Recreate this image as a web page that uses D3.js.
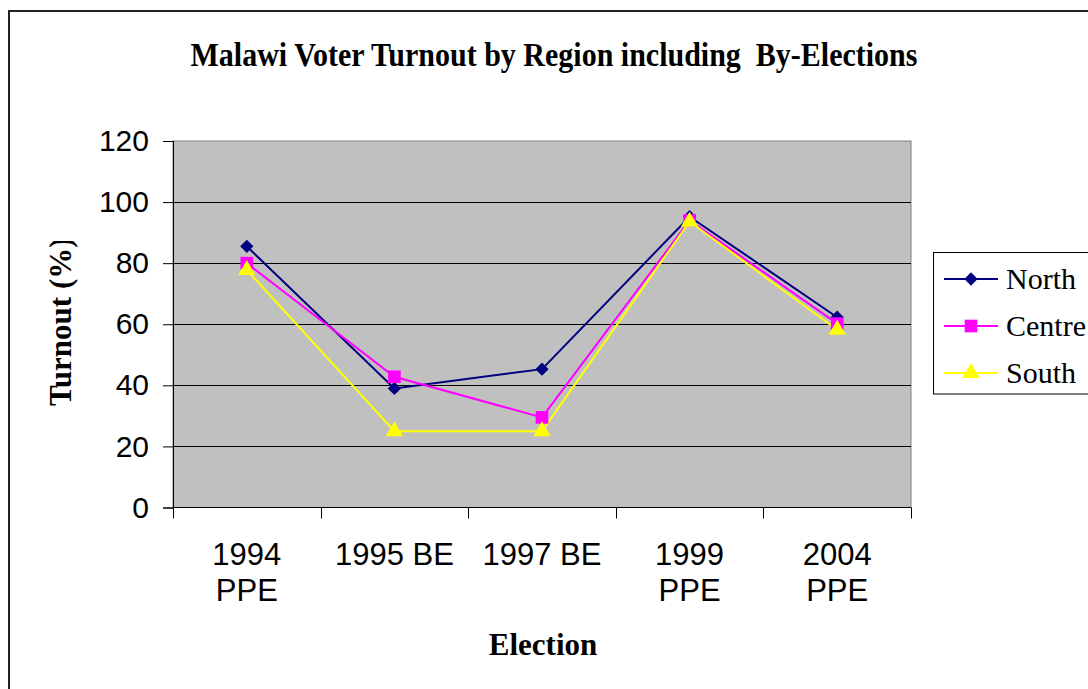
<!DOCTYPE html>
<html>
<head>
<meta charset="utf-8">
<script src="https://cdn.jsdelivr.net/npm/d3@7"></script>
<style>
  html, body { margin: 0; padding: 0; background: #fff; }
  svg { display: block; }
</style>
</head>
<body>
<svg id="chart" width="1088" height="689"></svg>
<script>
const categories = [["1994", "PPE"], ["1995 BE"], ["1997 BE"], ["1999", "PPE"], ["2004", "PPE"]];
const categoryKeys = ["1994 PPE", "1995 BE", "1997 BE", "1999 PPE", "2004 PPE"];
const north  = [85.5, 39, 45.3, 95.2, 62.3];
const centre = [80, 42.8, 29.5, 94, 60.2];
const south  = [77.8, 25, 25, 93.6, 58.2];
const yTicks = [0, 20, 40, 60, 80, 100, 120];
const seriesNames = ["North", "Centre", "South"];
const seriesColors = ["#000080", "#FF00FF", "#FFFF00"];
const seriesShapes = [d3.symbolSquare, d3.symbolSquare, d3.symbolTriangle];
const seriesRotate = [45, 0, 0];
const seriesData = [north, centre, south];

const svg = d3.select("#chart");
const W = 1088, H = 689;
const px0 = 173, px1 = 911, pyTop = 141, pyBot = 507.5;
const serif = "'Liberation Serif', 'Times New Roman', serif";
const sans = "'Liberation Sans', Arial, sans-serif";

// outer frame
svg.append("path")
  .attr("d", `M9,${H + 5} L9,11 L${W + 5},11`)
  .attr("fill", "none").attr("stroke", "#222").attr("stroke-width", 2);

// title
svg.append("text")
  .attr("transform", "translate(554,66) scale(1,1.12)")
  .attr("text-anchor", "middle")
  .attr("font-family", serif)
  .attr("font-weight", "bold").attr("font-size", 30)
  .attr("xml:space", "preserve")
  .text("Malawi Voter Turnout by Region including  By-Elections");

const x = d3.scaleBand().domain(categoryKeys).range([px0, px1]).padding(0);
const y = d3.scaleLinear().domain([0, 120]).range([pyBot, pyTop]);

// plot background
svg.append("rect")
  .attr("x", px0).attr("y", pyTop)
  .attr("width", px1 - px0).attr("height", pyBot - pyTop)
  .attr("fill", "#C0C0C0").attr("stroke", "#808080").attr("stroke-width", 1);

// gridlines
svg.append("g").selectAll("line")
  .data(yTicks.filter(t => t > 0 && t < 120))
  .join("line")
  .attr("x1", px0).attr("x2", px1)
  .attr("y1", d => Math.round(y(d)) + 0.5).attr("y2", d => Math.round(y(d)) + 0.5)
  .attr("stroke", "#000").attr("stroke-width", 1);

// y axis
const yAxis = d3.axisLeft(y).tickValues(yTicks).tickSize(10).tickPadding(14).tickFormat(d3.format("d"));
const gy = svg.append("g").attr("transform", `translate(${px0},0)`).call(yAxis);
gy.select(".domain").attr("stroke", "#000");
gy.selectAll(".tick line").attr("stroke", "#000");
gy.selectAll(".tick text")
  .attr("font-family", sans)
  .attr("font-size", 30).attr("fill", "#000");

// x axis (ticks between categories)
const gx = svg.append("g").attr("transform", `translate(0,${pyBot})`);
gx.append("line").attr("x1", px0).attr("x2", px1).attr("y1", 0).attr("y2", 0).attr("stroke", "#000");
const boundaries = categoryKeys.map(k => x(k)).concat([x(categoryKeys[categoryKeys.length - 1]) + x.bandwidth()]);
gx.selectAll("line.tk").data(boundaries).join("line").attr("class", "tk")
  .attr("x1", d => Math.round(d) + 0.5).attr("x2", d => Math.round(d) + 0.5)
  .attr("y1", 0).attr("y2", 11).attr("stroke", "#000");
const lbl = gx.selectAll("text.lbl").data(categories).join("text").attr("class", "lbl")
  .attr("x", (d, i) => x(categoryKeys[i]) + x.bandwidth() / 2)
  .attr("y", 57)
  .attr("text-anchor", "middle")
  .attr("font-family", sans)
  .attr("font-size", 31);
lbl.each(function(d) {
  const t = d3.select(this);
  d.forEach((line, j) => {
    t.append("tspan").attr("x", t.attr("x")).attr("dy", j === 0 ? 0 : 36).text(line);
  });
});

// axis titles
svg.append("text")
  .attr("x", 543).attr("y", 655)
  .attr("text-anchor", "middle")
  .attr("font-family", serif)
  .attr("font-weight", "bold").attr("font-size", 31)
  .text("Election");

svg.append("defs").append("clipPath").attr("id", "ytclip")
  .append("rect").attr("x", 0).attr("y", 241).attr("width", 120).attr("height", 300);
svg.append("g").attr("clip-path", "url(#ytclip)")
  .append("text")
  .attr("transform", "translate(71,406) rotate(-90)")
  .attr("text-anchor", "start")
  .attr("font-family", serif)
  .attr("font-weight", "bold").attr("font-size", 31)
  .text("Turnout (%)");

// series
const cx = k => x(k) + x.bandwidth() / 2;
const line = d3.line().x((d, i) => cx(categoryKeys[i])).y(d => y(d));
seriesData.forEach((vals, s) => {
  svg.append("path").datum(vals)
    .attr("d", line).attr("fill", "none")
    .attr("stroke", seriesColors[s]).attr("stroke-width", 2);
});
const sizes = [88, 160, 130];
seriesData.forEach((vals, s) => {
  svg.append("g").selectAll("path").data(vals).join("path")
    .attr("d", d3.symbol().type(seriesShapes[s]).size(sizes[s]))
    .attr("transform", (d, i) => `translate(${cx(categoryKeys[i])},${y(d)}) rotate(${seriesRotate[s]})`)
    .attr("fill", seriesColors[s]);
});

// legend
const lg = svg.append("g");
lg.append("rect").attr("x", 933.5).attr("y", 252.5).attr("width", 170).attr("height", 141.5)
  .attr("fill", "#fff").attr("stroke", "#000").attr("stroke-width", 1);
seriesNames.forEach((name, s) => {
  const ly = 279 + s * 47;
  lg.append("line").attr("x1", 944).attr("x2", 998).attr("y1", ly).attr("y2", ly)
    .attr("stroke", seriesColors[s]).attr("stroke-width", 2);
  lg.append("path").attr("d", d3.symbol().type(seriesShapes[s]).size(sizes[s]))
    .attr("transform", `translate(971,${ly}) rotate(${seriesRotate[s]})`).attr("fill", seriesColors[s]);
  lg.append("text").attr("x", 1006).attr("y", ly + 10)
    .attr("font-family", serif)
    .attr("font-size", 30).text(name);
});
</script>
</body>
</html>
